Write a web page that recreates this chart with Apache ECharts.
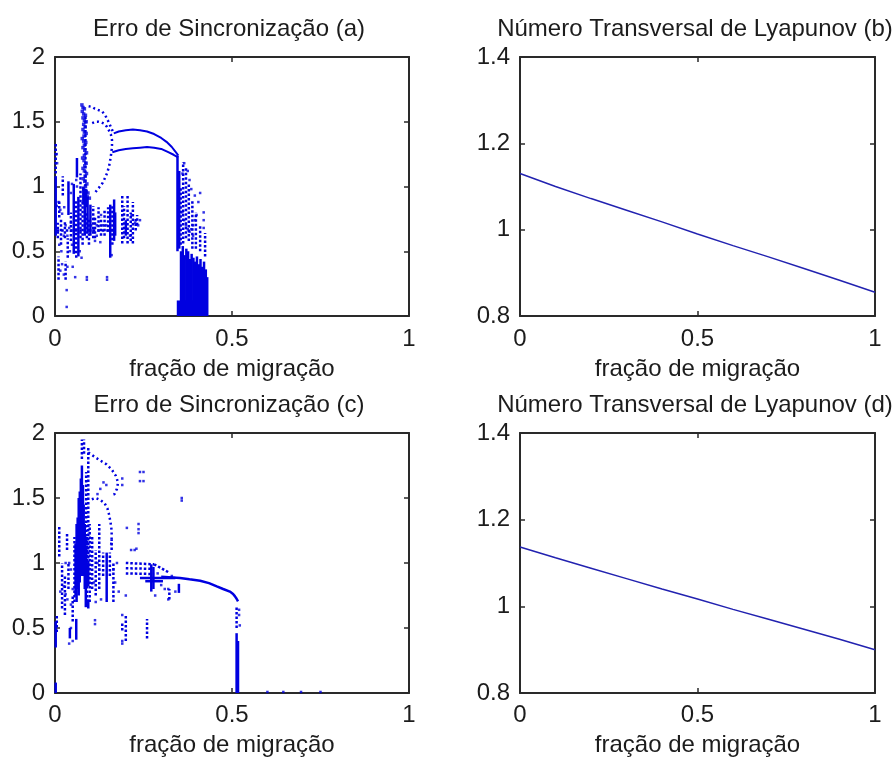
<!DOCTYPE html>
<html>
<head>
<meta charset="utf-8">
<script src="https://cdn.jsdelivr.net/npm/echarts@6/dist/echarts.min.js"></script>
<style>
  html, body { margin: 0; padding: 0; background: #fff; }
  #chart { width: 894px; height: 762px; }
</style>
</head>
<body>
<div id="chart"></div>
<script>
// textos
const titles = ['Erro de Sincronização (a)', 'Número Transversal de Lyapunov (b)', 'Erro de Sincronização (c)', 'Número Transversal de Lyapunov (d)']
const xName = 'fração de migração'

// (a) erro de sincronização - trechos verticais/horizontais [x0, y0, x1, y1]
const aSolidRuns = [
  [0.002, 0.62, 0.002, 1.08], [0.038, 0.78, 0.038, 1.04], [0.053, 0.48, 0.053, 1.02],
  [0.062, 1.07, 0.062, 1.22], [0.066, 0.46, 0.066, 0.92], [0.084, 0.62, 0.084, 0.98],
  [0.092, 0.64, 0.092, 0.92], [0.100, 0.62, 0.100, 0.86], [0.156, 0.45, 0.156, 0.86],
  [0.167, 0.58, 0.167, 0.90], [0.170, 0.62, 0.170, 0.80], [0.200, 0.62, 0.200, 0.74],
  [0.080, 0.86, 0.080, 1.00], [0.088, 0.84, 0.088, 0.98],
  [0.346, 0.50, 0.346, 1.24], [0.351, 0.52, 0.351, 1.12],
  [0.356, 0, 0.356, 0.50], [0.361, 0, 0.361, 0.54], [0.366, 0, 0.366, 0.47],
  [0.371, 0, 0.371, 0.52], [0.376, 0, 0.376, 0.50], [0.381, 0, 0.381, 0.44],
  [0.386, 0, 0.386, 0.48], [0.391, 0, 0.391, 0.45], [0.396, 0, 0.396, 0.42],
  [0.401, 0, 0.401, 0.46], [0.406, 0, 0.406, 0.40], [0.411, 0, 0.411, 0.44],
  [0.416, 0, 0.416, 0.38], [0.421, 0, 0.421, 0.42], [0.426, 0, 0.426, 0.36],
  [0.430, 0, 0.430, 0.30]
]
const aDottedRuns = [
  [0.002, 1.10, 0.002, 1.34], [0.012, 0.76, 0.012, 0.90], [0.022, 0.93, 0.022, 1.08],
  [0.028, 0.60, 0.028, 0.74], [0.010, 0.28, 0.010, 0.46], [0.030, 0.28, 0.030, 0.42],
  [0.060, 0.45, 0.060, 0.90], [0.072, 0.60, 0.072, 1.10], [0.108, 0.60, 0.108, 0.85],
  [0.123, 0.65, 0.123, 0.84], [0.140, 0.62, 0.140, 0.82], [0.150, 0.65, 0.150, 0.84],
  [0.190, 0.56, 0.190, 0.93], [0.205, 0.56, 0.205, 0.93], [0.220, 0.56, 0.220, 0.88],
  [0.232, 0.70, 0.232, 0.78], [0.362, 0.56, 0.362, 1.19], [0.370, 0.60, 0.370, 1.15],
  [0.378, 0.58, 0.378, 1.02], [0.388, 0.52, 0.388, 0.90], [0.398, 0.52, 0.398, 0.80],
  [0.410, 0.50, 0.410, 0.70], [0.424, 0.46, 0.424, 0.64], [0.005, 0.66, 0.165, 0.66],
  [0.017, 0.55, 0.017, 0.75], [0.045, 0.58, 0.045, 0.80], [0.078, 0.55, 0.078, 0.88],
  [0.096, 0.55, 0.096, 0.75], [0.113, 0.60, 0.113, 0.76], [0.130, 0.62, 0.130, 0.76],
  [0.162, 0.55, 0.162, 0.86], [0.195, 0.60, 0.195, 0.85], [0.214, 0.58, 0.214, 0.80],
  [0.228, 0.66, 0.228, 0.76], [0.086, 1.00, 0.086, 1.55], [0.090, 0.60, 0.090, 0.80],
  [0.008, 0.60, 0.008, 0.72], [0.036, 0.45, 0.036, 0.60], [0.355, 0.55, 0.355, 1.00]
]
// bloco denso [x0, y0, x1, y1]
const aBlocks = [[0.344, 0, 0.432, 0.12]]
// arcos
const aUpperArc = [[0.166, 1.41], [0.18, 1.425], [0.20, 1.435], [0.22, 1.44], [0.24, 1.435], [0.26, 1.425],
  [0.28, 1.405], [0.30, 1.375], [0.315, 1.345], [0.33, 1.305], [0.34, 1.27], [0.348, 1.24]]
const aLowerArc = [[0.162, 1.265], [0.18, 1.28], [0.20, 1.29], [0.22, 1.295], [0.24, 1.30], [0.26, 1.305],
  [0.28, 1.30], [0.30, 1.29], [0.32, 1.265], [0.335, 1.245], [0.348, 1.225]]
const aTopCurve = [[0.095, 1.62], [0.104, 1.615], [0.113, 1.60], [0.123, 1.59], [0.133, 1.58], [0.142, 1.55],
  [0.151, 1.50], [0.156, 1.47], [0.161, 1.44], [0.165, 1.41]]
const aReturnCurve = [[0.105, 1.49], [0.114, 1.50], [0.123, 1.50], [0.131, 1.495], [0.139, 1.485], [0.147, 1.46],
  [0.153, 1.43], [0.158, 1.40], [0.161, 1.36], [0.161, 1.32], [0.160, 1.28], [0.157, 1.22], [0.153, 1.16],
  [0.148, 1.11], [0.142, 1.07], [0.135, 1.03], [0.127, 1.00], [0.118, 0.97], [0.110, 0.94]]
const aSnake = [[0.076, 1.63], [0.079, 1.61], [0.083, 1.60], [0.077, 1.58], [0.081, 1.56], [0.086, 1.55],
  [0.079, 1.53], [0.083, 1.51], [0.088, 1.50], [0.081, 1.48], [0.085, 1.46], [0.079, 1.44], [0.083, 1.42],
  [0.088, 1.41], [0.082, 1.39], [0.077, 1.37], [0.081, 1.35], [0.087, 1.34], [0.083, 1.32], [0.079, 1.30],
  [0.084, 1.28], [0.089, 1.26], [0.083, 1.24], [0.078, 1.22], [0.082, 1.20], [0.088, 1.18], [0.084, 1.16],
  [0.079, 1.14], [0.083, 1.12], [0.089, 1.10], [0.085, 1.08], [0.080, 1.06], [0.084, 1.04], [0.090, 1.02],
  [0.086, 1.00], [0.081, 0.98], [0.088, 0.96], [0.093, 0.95], [0.085, 0.93], [0.091, 0.92], [0.097, 0.91]]
const aDots = [[0.005, 0.85], [0.015, 0.82], [0.020, 0.79], [0.010, 0.88], [0.026, 0.84], [0.030, 0.70],
  [0.035, 0.62], [0.045, 0.72], [0.048, 0.55], [0.042, 0.50], [0.020, 0.40], [0.015, 0.35], [0.025, 0.32],
  [0.035, 0.38], [0.033, 0.20], [0.033, 0.07], [0.050, 0.38], [0.057, 0.30], [0.090, 0.30], [0.090, 0.28],
  [0.147, 0.30], [0.147, 0.28], [0.118, 0.62], [0.113, 0.58], [0.128, 0.57], [0.160, 0.47], [0.110, 0.75],
  [0.130, 0.78], [0.145, 0.70], [0.060, 1.05], [0.062, 1.00], [0.045, 0.95], [0.048, 1.02], [0.005, 1.25],
  [0.006, 1.18], [0.240, 0.74], [0.235, 0.70], [0.226, 0.72], [0.212, 0.62], [0.216, 0.78],
  [0.360, 0.80], [0.365, 0.74], [0.370, 0.70], [0.375, 0.67], [0.380, 0.65], [0.385, 0.67], [0.390, 0.70],
  [0.395, 0.74], [0.400, 0.78], [0.410, 0.95], [0.420, 0.80], [0.420, 0.74], [0.420, 0.68], [0.405, 0.88],
  [0.395, 0.93], [0.380, 1.05], [0.385, 0.98], [0.375, 1.12], [0.365, 1.18], [0.360, 1.10], [0.390, 0.62],
  [0.102, 0.70], [0.106, 0.66], [0.118, 0.70], [0.135, 0.70], [0.025, 0.62], [0.040, 0.68], [0.070, 0.50],
  [0.075, 0.45], [0.012, 0.55], [0.018, 0.50]]

// (b) número transversal de Lyapunov
const bX = [0, 0.1, 0.2, 0.3, 0.4, 0.5, 0.6, 0.7, 0.8, 0.9, 1.0]
const bY = [1.13, 1.10, 1.072, 1.045, 1.018, 0.99, 0.963, 0.937, 0.91, 0.883, 0.855]

// (c) erro de sincronização
const cSolidRuns = [
  [0.002, 0.35, 0.002, 0.55], [0.002, 0.00, 0.002, 0.08], [0.042, 0.42, 0.042, 0.50],
  [0.060, 0.41, 0.060, 0.57], [0.058, 0.75, 0.058, 1.15], [0.064, 0.80, 0.064, 1.35],
  [0.070, 0.85, 0.070, 1.55], [0.076, 0.95, 0.076, 1.75], [0.081, 1.00, 0.081, 1.45],
  [0.087, 0.66, 0.087, 1.10], [0.094, 0.82, 0.094, 1.00], [0.094, 0.65, 0.094, 0.72],
  [0.061, 0.70, 0.061, 1.30], [0.067, 0.75, 0.067, 1.50], [0.073, 0.90, 0.073, 1.65],
  [0.079, 0.90, 0.079, 1.60], [0.084, 0.80, 0.084, 1.30],
  [0.146, 0.70, 0.146, 1.08], [0.272, 0.78, 0.272, 0.99], [0.278, 0.80, 0.278, 0.97],
  [0.350, 0.77, 0.350, 0.84], [0.513, 0.00, 0.513, 0.46], [0.517, 0.00, 0.517, 0.40],
  [0.515, 0.00, 0.515, 0.30], [0.255, 0.86, 0.305, 0.86], [0.240, 0.885, 0.340, 0.885]
]
const cDottedRuns = [
  [0.076, 1.80, 0.076, 1.95], [0.082, 1.84, 0.082, 1.95], [0.094, 1.00, 0.094, 1.90],
  [0.088, 1.10, 0.088, 1.70], [0.012, 1.05, 0.012, 1.28], [0.020, 0.65, 0.020, 1.00],
  [0.034, 1.10, 0.034, 1.23], [0.028, 0.60, 0.028, 0.90], [0.005, 0.47, 0.005, 0.60],
  [0.136, 0.90, 0.136, 1.08], [0.155, 0.90, 0.155, 1.08], [0.160, 1.10, 0.160, 1.18],
  [0.190, 0.48, 0.190, 0.55], [0.200, 0.40, 0.200, 0.60], [0.260, 0.42, 0.260, 0.57],
  [0.323, 0.72, 0.323, 0.80], [0.200, 1.00, 0.280, 0.99], [0.200, 0.96, 0.270, 0.955],
  [0.200, 0.92, 0.280, 0.915], [0.280, 0.99, 0.320, 0.93], [0.513, 0.50, 0.513, 0.66],
  [0.055, 0.70, 0.055, 1.20], [0.090, 0.70, 0.090, 1.20], [0.098, 0.70, 0.098, 1.30],
  [0.105, 0.80, 0.105, 1.20], [0.115, 0.75, 0.115, 1.10], [0.125, 0.80, 0.125, 1.30],
  [0.165, 0.70, 0.165, 1.00], [0.050, 0.55, 0.050, 0.75], [0.038, 0.80, 0.038, 1.00]
]
const cMainCurve = [[0.30, 0.895], [0.353, 0.885], [0.38, 0.875], [0.41, 0.864], [0.435, 0.845],
  [0.457, 0.82], [0.475, 0.80], [0.494, 0.78], [0.503, 0.762], [0.508, 0.745], [0.513, 0.725], [0.517, 0.705]]
const cLoopOuter = [[0.094, 1.85], [0.11, 1.82], [0.127, 1.79], [0.145, 1.76], [0.16, 1.72], [0.172, 1.67],
  [0.178, 1.62], [0.175, 1.57], [0.168, 1.53], [0.158, 1.52]]
const cLoopInner = [[0.104, 1.49], [0.115, 1.50], [0.128, 1.485], [0.14, 1.46], [0.148, 1.42], [0.153, 1.37],
  [0.157, 1.31], [0.16, 1.25], [0.16, 1.19], [0.158, 1.12]]
const cDots = [[0.19, 1.65], [0.19, 1.60], [0.24, 1.70], [0.25, 1.70], [0.24, 1.63], [0.25, 1.63],
  [0.358, 1.50], [0.358, 1.48], [0.236, 1.30], [0.236, 1.26], [0.236, 1.23], [0.203, 1.27], [0.215, 1.10],
  [0.225, 1.10], [0.23, 1.11], [0.113, 0.56], [0.113, 0.53], [0.19, 0.60], [0.19, 0.40], [0.19, 0.38],
  [0.283, 0.75], [0.32, 0.72], [0.32, 0.80], [0.60, 0.008], [0.645, 0.008], [0.695, 0.008], [0.75, 0.008],
  [0.522, 0.52], [0.52, 0.60], [0.52, 0.64], [0.04, 0.38], [0.05, 0.40], [0.045, 0.50], [0.015, 0.78],
  [0.025, 0.82], [0.03, 0.76], [0.035, 0.72], [0.045, 0.68], [0.05, 0.80], [0.04, 1.00], [0.03, 1.00],
  [0.045, 0.95], [0.12, 1.00], [0.125, 0.95], [0.11, 0.85], [0.115, 0.70], [0.13, 0.72], [0.165, 0.95],
  [0.175, 1.00], [0.17, 0.85], [0.18, 0.78], [0.20, 0.75], [0.137, 1.62], [0.145, 1.60], [0.128, 1.57],
  [0.12, 1.53], [0.30, 0.83], [0.31, 0.80], [0.34, 0.78], [0.33, 0.90], [0.29, 0.92]]

// (d) número transversal de Lyapunov
const dX = [0, 0.1, 0.2, 0.3, 0.4, 0.5, 0.6, 0.7, 0.8, 0.9, 1.0]
const dY = [1.137, 1.112, 1.088, 1.064, 1.04, 1.017, 0.993, 0.97, 0.947, 0.924, 0.90]

const BLUE = '#0000e0'
const LINE_BLUE = '#2222b0'
const AXIS = '#2a2a2a'
const FONT = { fontFamily: 'Liberation Sans', fontSize: 24, color: '#1c1c1c', lineHeight: 24 }

const grids = [
  { left: 55, top: 57, width: 354, height: 259 },
  { left: 520, top: 57, width: 355, height: 259 },
  { left: 55, top: 433, width: 354, height: 260 },
  { left: 520, top: 433, width: 355, height: 260 }
]
const yRanges = [[0, 2, 0.5], [0.8, 1.4, 0.2], [0, 2, 0.5], [0.8, 1.4, 0.2]]
const titlePos = [[229, 17], [695, 17], [229, 393], [695, 393]]
const labelMargin = [11, 11, 10, 10]
const nameGap = [41, 41, 40, 40]

function runRenderer(dash, width) {
  return function (params, api) {
    const a = api.coord([api.value(0), api.value(1)])
    const b = api.coord([api.value(2), api.value(3)])
    return {
      type: 'line',
      shape: { x1: a[0], y1: a[1], x2: b[0], y2: b[1] },
      style: { stroke: BLUE, lineWidth: width, lineDash: dash }
    }
  }
}

function renderBlock(params, api) {
  const a = api.coord([api.value(0), api.value(1)])
  const b = api.coord([api.value(2), api.value(3)])
  return {
    type: 'rect',
    shape: { x: a[0], y: b[1], width: b[0] - a[0], height: a[1] - b[1] },
    style: { fill: BLUE }
  }
}

const xAxes = []
const yAxes = []
grids.forEach((g, i) => {
  const axisLine = { show: true, onZero: false, lineStyle: { color: AXIS, width: 2 } }
  const axisTick = { show: true, inside: true, length: 5, lineStyle: { color: AXIS, width: 1.5 } }
  xAxes.push({
    gridIndex: i, type: 'value', min: 0, max: 1, interval: 0.5, position: 'bottom',
    name: xName, nameLocation: 'middle', nameGap: nameGap[i], nameTextStyle: FONT,
    axisLine, axisTick, splitLine: { show: false },
    axisLabel: Object.assign({ margin: labelMargin[i] }, FONT)
  })
  yAxes.push({
    gridIndex: i, type: 'value', min: yRanges[i][0], max: yRanges[i][1], interval: yRanges[i][2], position: 'left',
    axisLine, axisTick, splitLine: { show: false },
    axisLabel: Object.assign({ margin: 10 }, FONT)
  })
})
grids.forEach((g, i) => {
  const axisLine = { show: true, onZero: false, lineStyle: { color: AXIS, width: 2 } }
  const axisTick = { show: true, inside: true, length: 5, lineStyle: { color: AXIS, width: 1.5 } }
  xAxes.push({
    gridIndex: i, type: 'value', min: 0, max: 1, interval: 0.5, position: 'top',
    axisLine, axisTick, axisLabel: { show: false }, splitLine: { show: false }
  })
  yAxes.push({
    gridIndex: i, type: 'value', min: yRanges[i][0], max: yRanges[i][1], interval: yRanges[i][2], position: 'right',
    axisLine, axisTick, axisLabel: { show: false }, splitLine: { show: false }
  })
})

function runs(data, grid, dash, width) {
  return { type: 'custom', xAxisIndex: grid, yAxisIndex: grid, data, encode: { x: [0, 2], y: [1, 3] },
    renderItem: runRenderer(dash, width), silent: true }
}
function dots(data, grid, size) {
  return { type: 'scatter', xAxisIndex: grid, yAxisIndex: grid, data, symbol: 'rect', symbolSize: size,
    itemStyle: { color: BLUE }, silent: true }
}
function curve(data, grid, color, width, type) {
  return { type: 'line', xAxisIndex: grid, yAxisIndex: grid, data, showSymbol: false, symbol: 'none',
    lineStyle: { color, width, type }, silent: true }
}

const series = [
  runs(aSolidRuns, 0, null, 2.5),
  runs(aDottedRuns, 0, [2.5, 2], 2.5),
  { type: 'custom', xAxisIndex: 0, yAxisIndex: 0, data: aBlocks, encode: { x: [0, 2], y: [1, 3] }, renderItem: renderBlock, silent: true },
  curve(aUpperArc, 0, BLUE, 2, 'solid'),
  curve(aLowerArc, 0, BLUE, 2, 'solid'),
  curve(aTopCurve, 0, BLUE, 2.5, [2, 3]),
  curve(aReturnCurve, 0, BLUE, 2.5, [2, 3]),
  dots(aSnake, 0, 3.5),
  dots(aDots, 0, 2.5),
  curve(bX.map((x, k) => [x, bY[k]]), 1, LINE_BLUE, 1.5, 'solid'),
  runs(cSolidRuns, 2, null, 2.5),
  runs(cDottedRuns, 2, [2.5, 2], 2.5),
  curve(cMainCurve, 2, BLUE, 2.5, 'solid'),
  curve(cLoopOuter, 2, BLUE, 2.5, [2, 3]),
  curve(cLoopInner, 2, BLUE, 2.5, [2, 3]),
  dots(cDots, 2, 2.5),
  curve(dX.map((x, k) => [x, dY[k]]), 3, LINE_BLUE, 1.5, 'solid')
]

const chart = echarts.init(document.getElementById('chart'))
chart.setOption({
  animation: false,
  backgroundColor: '#fff',
  title: titles.map((t, i) => ({
    text: t, left: titlePos[i][0], top: titlePos[i][1], textAlign: 'center', padding: 0,
    textStyle: Object.assign({ fontWeight: 'normal' }, FONT)
  })),
  grid: grids,
  xAxis: xAxes,
  yAxis: yAxes,
  series
})
</script>
</body>
</html>
